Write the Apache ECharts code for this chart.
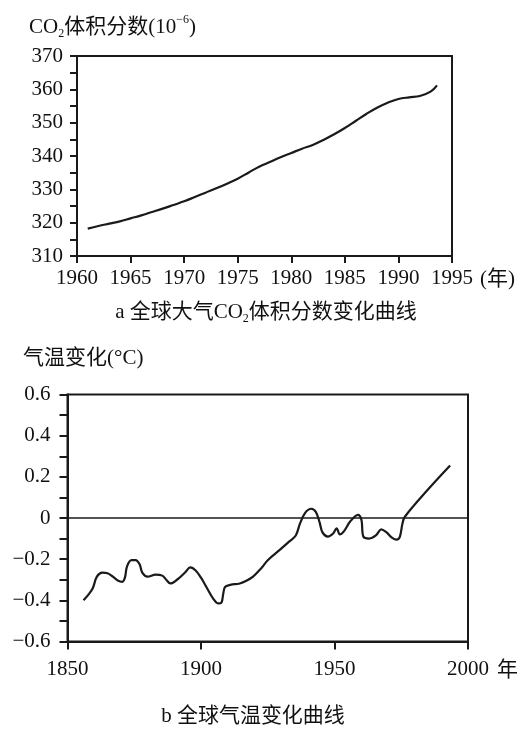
<!DOCTYPE html>
<html><head><meta charset="utf-8">
<script src="https://cdn.jsdelivr.net/npm/echarts@6/dist/echarts.min.js"></script>
<style>html,body{margin:0;padding:0;background:#fff}#c{width:525px;height:730px}</style>
</head><body><div id="c"></div>
<script>
// ---- Data ----
const co2Years = [1961, 1962, 1963, 1964, 1965, 1966, 1967, 1968, 1969, 1970, 1971, 1972, 1973, 1974, 1975, 1976, 1977, 1978, 1979, 1980, 1981, 1982, 1983, 1984, 1985, 1986, 1987, 1988, 1989, 1990, 1991, 1992, 1993, 1993.6];
const co2Values = [318.2, 319.0, 319.7, 320.4, 321.3, 322.2, 323.2, 324.2, 325.3, 326.4, 327.7, 329.0, 330.3, 331.7, 333.2, 335.0, 336.8, 338.2, 339.6, 340.9, 342.2, 343.3, 344.8, 346.5, 348.4, 350.5, 352.6, 354.5, 356.0, 357.1, 357.6, 358.0, 359.3, 361.2];

const tempYears = [1856, 1858, 1859.5, 1861, 1863, 1865, 1867, 1869, 1870.5, 1871.5, 1872.3, 1874, 1875.5, 1877, 1878, 1880, 1883, 1885.5, 1887, 1888.5, 1891, 1894, 1896, 1898, 1900, 1902, 1904.5, 1906.5, 1907.7, 1908.3, 1909, 1911, 1914.5, 1917, 1919.5, 1922.5, 1925, 1929.5, 1933, 1935.5, 1937, 1939, 1941.3, 1943, 1944.4, 1945.5, 1947.5, 1949.5, 1950.8, 1952, 1953.5, 1956, 1958.8, 1960.1, 1960.8, 1963, 1965.5, 1967.5, 1969.5, 1971.5, 1973.3, 1974.5, 1975.4, 1976.3, 1985, 1993.3];
const tempValues = [-0.40, -0.37, -0.34, -0.285, -0.265, -0.268, -0.285, -0.305, -0.31, -0.29, -0.235, -0.205, -0.205, -0.225, -0.265, -0.285, -0.275, -0.28, -0.30, -0.318, -0.30, -0.265, -0.24, -0.255, -0.29, -0.335, -0.39, -0.415, -0.41, -0.37, -0.335, -0.325, -0.318, -0.305, -0.285, -0.245, -0.205, -0.155, -0.115, -0.085, -0.03, 0.025, 0.045, 0.03, -0.02, -0.07, -0.09, -0.075, -0.05, -0.08, -0.065, -0.015, 0.015, -0.01, -0.09, -0.10, -0.085, -0.055, -0.07, -0.095, -0.105, -0.09, -0.03, 0.005, 0.138, 0.255];

const co2YTicks = [310, 320, 330, 340, 350, 360, 370];
const co2XTicks = [1960, 1965, 1970, 1975, 1980, 1985, 1990, 1995];
const tempYTicks = [-0.6, -0.4, -0.2, 0, 0.2, 0.4, 0.6];
const tempYLabels = ['\u22120.6', '\u22120.4', '\u22120.2', '0', '0.2', '0.4', '0.6'];
const tempXTicks = [1850, 1900, 1950, 2000];

// ---- Chart ----
const FONT = "'Liberation Serif', 'Times New Roman', 'Noto Sans CJK SC', serif";
const INK = '#1a1a1a';
const chart = echarts.init(document.getElementById('c'), null, {renderer: 'canvas', width: 525, height: 730});

function axisBase(extra) {
  return Object.assign({
    type: 'value',
    axisLine: {show: true, onZero: false, lineStyle: {color: INK, width: 2}},
    axisTick: {show: true, inside: false, length: 7, lineStyle: {color: INK, width: 2}},
    splitLine: {show: false}
  }, extra);
}

const rich = {
  a: {fontFamily: FONT, fontSize: 21, color: '#111', lineHeight: 26},
  s: {fontFamily: FONT, fontSize: 12, color: '#111', lineHeight: 13, verticalAlign: 'bottom'},
  p: {fontFamily: FONT, fontSize: 12, color: '#111', lineHeight: 13, verticalAlign: 'top'}
};

function txt(x, y, text, align) {
  return {
    type: 'text', x: x, y: y, silent: true,
    style: {text: text, rich: rich, align: align || 'left', verticalAlign: 'middle', fill: '#111', fontFamily: FONT, fontSize: 21}
  };
}

const yearFmt = v => String(Math.round(v));
const lbl = (margin, fmt) => ({color: '#111', fontFamily: FONT, fontSize: 21, margin: margin, formatter: fmt});

const option = {
  animation: false,
  backgroundColor: '#fff',
  textStyle: {fontFamily: FONT},
  grid: [
    {left: 77, top: 56, width: 375, height: 200, show: true, borderColor: INK, borderWidth: 2, backgroundColor: 'transparent'},
    {left: 67.5, top: 394.5, width: 400.5, height: 247, show: true, borderColor: INK, borderWidth: 2, backgroundColor: 'transparent'}
  ],
  xAxis: [
    axisBase({gridIndex: 0, min: co2XTicks[0], max: co2XTicks[co2XTicks.length - 1], interval: 5,
      axisLabel: lbl(12, yearFmt)}),
    axisBase({gridIndex: 1, min: tempXTicks[0], max: tempXTicks[tempXTicks.length - 1], interval: 50,
      axisTick: {show: true, inside: false, length: 8, lineStyle: {color: INK, width: 2}},
      axisLabel: lbl(17, yearFmt)})
  ],
  yAxis: [
    axisBase({gridIndex: 0, min: co2YTicks[0], max: co2YTicks[co2YTicks.length - 1], interval: 10,
      minorTick: {show: true, splitNumber: 2, length: 7, lineStyle: {color: INK, width: 2}},
      axisLabel: lbl(14, yearFmt)}),
    axisBase({gridIndex: 1, min: tempYTicks[0], max: tempYTicks[tempYTicks.length - 1], interval: 0.2,
      axisTick: {show: true, inside: false, length: 8, lineStyle: {color: INK, width: 2}},
      minorTick: {show: true, splitNumber: 2, length: 8, lineStyle: {color: INK, width: 2}},
      axisLabel: lbl(17, function (v) {
        const i = tempYTicks.findIndex(t => Math.abs(t - v) < 1e-6);
        return i >= 0 ? tempYLabels[i] : '';
      })})
  ],
  series: [
    {
      type: 'line', xAxisIndex: 0, yAxisIndex: 0, smooth: 0.4, showSymbol: false, silent: true,
      lineStyle: {color: INK, width: 2.2},
      data: co2Years.map((y, i) => [y, co2Values[i]])
    },
    {
      type: 'line', xAxisIndex: 1, yAxisIndex: 1, smooth: 0.35, showSymbol: false, silent: true,
      lineStyle: {color: INK, width: 2.2},
      data: tempYears.map((y, i) => [y, tempValues[i]]),
      markLine: {
        silent: true, symbol: 'none', label: {show: false},
        lineStyle: {color: INK, width: 1.6, type: 'solid'},
        data: [{yAxis: 0}]
      }
    }
  ],
  graphic: [
    txt(29, 27, '{a|CO}{s|2}{a|体积分数(10}{p|\u22126}{a|)}'),
    txt(266, 312, '{a|a 全球大气CO}{s|2}{a|体积分数变化曲线}', 'center'),
    txt(480, 279, '{a|(年)}'),
    txt(23, 358, '{a|气温变化(°C)}'),
    txt(497, 670, '{a|年}'),
    txt(253, 716, '{a|b 全球气温变化曲线}', 'center')
  ]
};
chart.setOption(option);
</script>
</body></html>
